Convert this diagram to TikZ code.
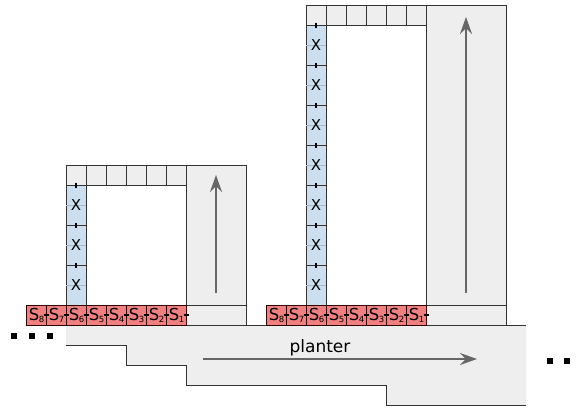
\documentclass[tikz,border=0pt]{standalone}
\usepackage{fontspec}
\setmainfont{DejaVu Sans}
\usetikzlibrary{arrows.meta}
\definecolor{cellgray}{HTML}{EEEEEE}
\definecolor{sred}{HTML}{F08080}
\definecolor{xblue}{HTML}{CCDFEE}
\definecolor{edgec}{HTML}{333333}
\definecolor{lightline}{HTML}{A8BDCC}
\definecolor{arrc}{HTML}{666666}
\newcommand{\Slab}[1]{S\kern-0.5pt\raisebox{-2.5pt}{\fontsize{8.5}{8.5}\selectfont #1}}
\begin{document}
\begin{tikzpicture}[x=1pt,y=-1pt,
  graybox/.style={draw=edgec, fill=cellgray, line width=1pt},
  topcell/.style={draw=edgec, fill=cellgray, line width=1pt, minimum width=20pt, minimum height=20pt, inner sep=0pt, anchor=north west},
  scell/.style={draw=black!80!red, fill=sred, line width=1pt, minimum width=20pt, minimum height=20pt, inner sep=0pt, anchor=north west, font=\fontsize{16.5}{16.5}\selectfont},
  xlab/.style={font=\fontsize{15}{15}\selectfont, inner sep=0pt},
  tick/.style={line width=1.8pt, black},
  flow/.style={draw=arrc, line width=2pt, -{Stealth[length=17pt,width=12pt,inset=6pt]}},
  dot/.style={fill=black, minimum size=6pt, inner sep=0pt},
]
\useasboundingbox (0,0) rectangle (581,408);
% planter
\fill[cellgray] (66,325) -- (526,325) -- (526,405) -- (386,405) -- (386,385) -- (186,385) -- (186,365) -- (126,365) -- (126,345) -- (66,345) -- cycle;
\draw[edgec, line width=1pt] (66,325) -- (526,325);
\draw[edgec, line width=1pt] (66,345) -- (126,345) -- (126,365) -- (186,365) -- (186,385) -- (386,385) -- (386,405) -- (526,405);
\coordinate (pa) at (203,359);
\coordinate (pb) at (477,359);
\draw[flow] (pa) -- (pb);
\node[font=\fontsize{17}{17}\selectfont, inner sep=0pt] (planter) at (320,348) {planter};
% dots
\foreach \x [count=\i] in {14,32,50} \node[dot] (ldot\i) at (\x,336) {};
\foreach \x [count=\i] in {549.5,567} \node[dot] (rdot\i) at (\x,361) {};

% ---------- left structure ----------
\node[graybox, minimum width=60pt, minimum height=140pt, inner sep=0pt, anchor=north west] (lcol) at (186,165) {};
\node[graybox, minimum width=60pt, minimum height=20pt, inner sep=0pt, anchor=north west] (lbase) at (186,305) {};
\foreach \i in {0,...,5} \node[topcell] (ltop\i) at (66+20*\i,165) {};
\node[draw=edgec, fill=xblue, line width=1pt, minimum width=20pt, minimum height=120pt, inner sep=0pt, anchor=north west] (lblue) at (66,185) {};
\foreach \y in {205,245,285} \draw[lightline, line width=0.8pt] (66,\y) -- (86,\y);
\foreach \y in {225,265} \draw[edgec, line width=1pt] (66,\y) -- (86,\y);
\foreach \y [count=\i] in {205,245,285} \node[xlab] (lx\i) at (76,\y) {X};
\foreach \y in {185,225,265} \draw[tick] (76,\y-2.5) -- (76,\y+2.5);
\foreach \n [count=\i from 0] in {8,7,6,5,4,3,2,1} \node[scell] (ls\n) at (26+20*\i,305) {\Slab{\n}};
\foreach \i in {1,...,8} \draw[tick] (26+20*\i-2.5,315) -- (26+20*\i+2.5,315);
\coordinate (la) at (216,293);
\coordinate (lb) at (216,175);
\draw[flow] (la) -- (lb);

% ---------- right structure ----------
\node[graybox, minimum width=80pt, minimum height=300pt, inner sep=0pt, anchor=north west] (rcol) at (426,5) {};
\node[graybox, minimum width=80pt, minimum height=20pt, inner sep=0pt, anchor=north west] (rbase) at (426,305) {};
\foreach \i in {0,...,5} \node[topcell] (rtop\i) at (306+20*\i,5) {};
\node[draw=edgec, fill=xblue, line width=1pt, minimum width=20pt, minimum height=280pt, inner sep=0pt, anchor=north west] (rblue) at (306,25) {};
\foreach \y in {45,85,...,285} \draw[lightline, line width=0.8pt] (306,\y) -- (326,\y);
\foreach \y in {65,105,...,265} \draw[edgec, line width=1pt] (306,\y) -- (326,\y);
\foreach \y [count=\i] in {45,85,...,285} \node[xlab] (rx\i) at (316,\y) {X};
\foreach \y in {25,65,...,265} \draw[tick] (316,\y-2.5) -- (316,\y+2.5);
\foreach \n [count=\i from 0] in {8,7,6,5,4,3,2,1} \node[scell] (rs\n) at (266+20*\i,305) {\Slab{\n}};
\foreach \i in {1,...,8} \draw[tick] (266+20*\i-2.5,315) -- (266+20*\i+2.5,315);
\coordinate (ra) at (466,293);
\coordinate (rb) at (466,17);
\draw[flow] (ra) -- (rb);
\end{tikzpicture}
\end{document}
